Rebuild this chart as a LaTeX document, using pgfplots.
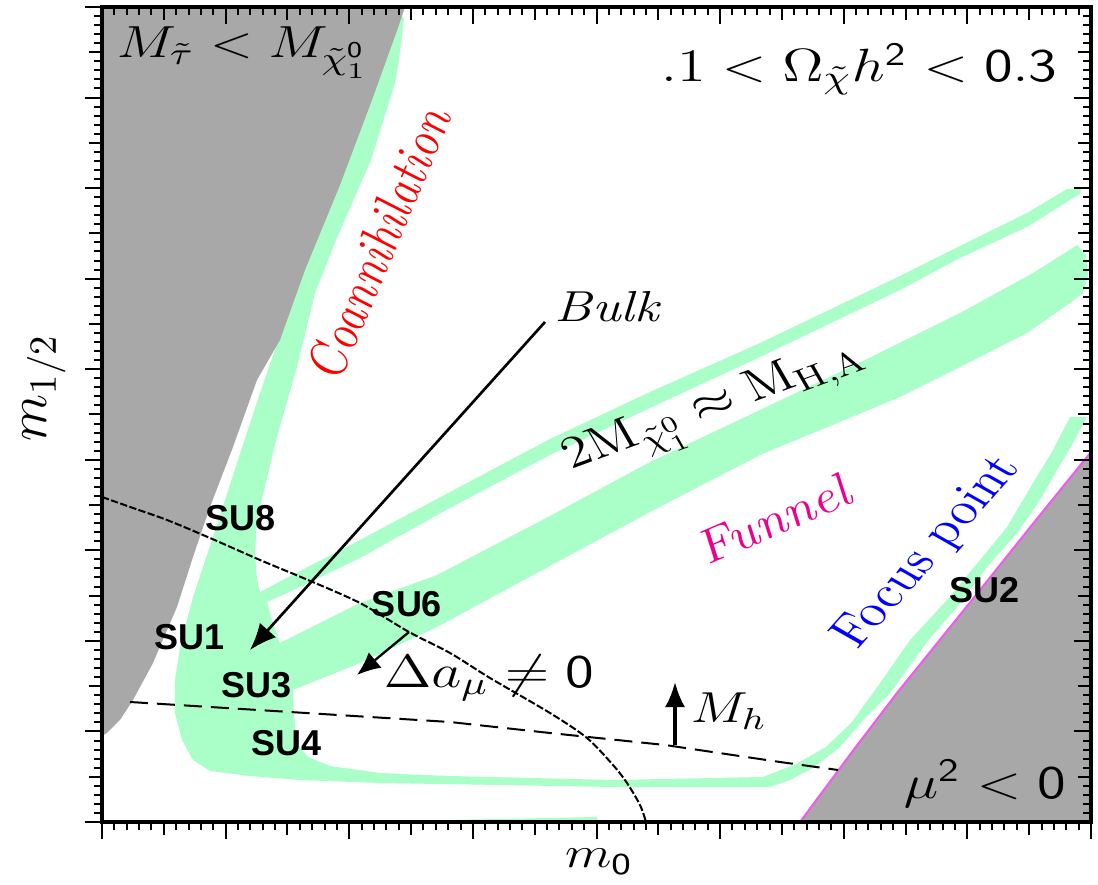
\RequirePackage{fix-cm}
\documentclass[border=0pt]{standalone}
\usepackage{fontspec}
\usepackage{pgfplots}
\pgfplotsset{compat=1.18}
\usetikzlibrary{arrows.meta}
\newfontfamily\sufont{Liberation Sans}
\definecolor{relic}{RGB}{170,255,200}
\definecolor{excluded}{RGB}{168,168,168}
\definecolor{fpmag}{RGB}{240,90,240}

\pgfplotsset{
  frame/.style={
    scale only axis, width=296.7pt, height=244.5pt,
    xmin=102, xmax=1091, ymin=62, ymax=877,
    xtick={102,225.625,349.25,472.875,596.5,720.125,843.75,967.375,1091},
    ytick={62,152.56,243.11,333.67,424.22,514.78,605.33,695.89,786.44,877},
    minor xtick={102,114.3625,...,1091},
    minor ytick={62,71.0556,...,877},
    extra x ticks={163.81,287.44,411.06,534.69,658.31,781.94,905.56,1029.19},
    extra y ticks={107.28,197.83,288.39,378.94,469.5,560.06,650.61,741.17,831.72},
    xticklabels={}, yticklabels={}, extra x tick labels={}, extra y tick labels={},
    major tick length=5.1pt, minor tick length=2.4pt,
    extra tick style={major tick length=4pt},
    axis line style={line width=1pt},
    tick style={black, line width=0.6pt},
  }
}

\begin{document}
\begin{tikzpicture}
\useasboundingbox (-30.6pt,-18.6pt) rectangle (298.8pt,246.6pt);
\begin{axis}[frame, tick align=outside, xtick pos=left, ytick pos=left, clip=false]
% relic density strips: coannihilation, bulk loop, funnel bands, focus point
\addplot[draw=none, fill=relic] coordinates {
 (398,870) (368,784) (336,699) (300,614) (280,549) (268,514) (260,491)
 (237,421) (213,347) (193,287) (180,237) (175,204) (175,171) (182,144)
 (193,124) (210,113) (250,108) (300,104) (380,101) (500,99) (613,97)
 (770,97) (790,104) (813,116) (840,137) (865,166) (890,191) (927,242)
 (957,277) (987,317) (1017,351) (1040,384) (1057,414) (1073,441)
 (1087,467) (1070,467)
 (1053,434) (1033,401) (1007,357) (980,324) (947,284) (910,244)
 (878,198) (852,162) (826,137) (796,120) (763,107) (613,104) (450,108) (380,111)
 (330,118) (308,127) (298,139) (295,159) (293,184) (293,194)
 (360,221) (437,257) (548,317) (650,372) (760,429) (900,487) (960,517)
 (1027,551) (1070,581) (1083,591) (1088,609) (1086,629) (1077,639)
 (1033,611) (960,571) (865,524) (760,474) (650,422) (548,367) (437,309)
 (360,281) (280,241) (272,264) (267,282)
 (300,297) (360,326) (450,376) (550,429) (650,476) (760,527) (900,594)
 (960,626) (1027,657) (1070,684) (1080,690) (1081,695)
 (1067,695) (1027,671) (960,638) (900,608) (760,541) (650,492) (550,445)
 (450,392) (360,344) (300,313) (260,292)
 (257,304) (255,331) (257,364) (276,444) (297,517) (315,591) (336,644)
 (371,724) (395,801) (399,824) (404,866)
} -- cycle;
\addplot[draw=none, fill=relic] coordinates {(380,63) (500,65) (597,67) (598,62) (380,62)} -- cycle;
% excluded: stau LSP and no EWSB
\addplot[draw=none, fill=excluded] coordinates {
 (102,877) (405,877) (399,859) (372,784) (340,699) (305,614) (280,544)
 (257,504) (233,437) (210,377) (193,327) (177,277) (153,221) (133,184)
 (120,164) (107,151) (102,148)
} -- cycle;
\addplot[draw=none, fill=excluded] coordinates {
 (800,62) (855,136) (897,191) (972,284) (1040,369) (1091,432) (1091,62)
} -- cycle;
\addplot[fpmag, line width=0.6pt] coordinates {
 (800,62) (855,136) (897,191) (972,284) (1040,369) (1091,432)
};
% g-2 contour
\addplot[black, line width=0.6pt, dash pattern=on 2.2pt off 0.7pt, smooth] coordinates {
 (102,387) (133,376) (167,364) (210,346) (260,324) (308,304) (360,281)
 (409,252) (450,231) (490,206) (550,171) (587,146) (613,119) (627,101)
 (640,79) (646,62)
};
% light Higgs mass bound
\addplot[black, line width=0.6pt, dash pattern=on 5.4pt off 2.7pt] coordinates {
 (130,182) (290,172) (450,162) (550,151) (665,139) (780,122) (838,114)
};
% arrows
\addplot[black, line width=0.8pt, -{Latex[length=8pt,width=6.5pt]}] coordinates {(545,562) (250,234)};
\addplot[black, line width=0.7pt, -{Latex[length=7pt,width=6pt]}] coordinates {(409,252) (357,209)};
\addplot[black, line width=1pt, -{Latex[length=7.5pt,width=6pt]}] coordinates {(675,139) (675,202)};
% region labels
\node[anchor=base west, inner sep=0pt, xscale=1.25, font=\fontsize{13.5}{15}\selectfont] at (axis cs:116,826)
  {$M_{\tilde{\tau}} < M_{\tilde{\chi}^{\mathsf{0}}_{1}}$};
\node[anchor=base east, inner sep=0pt, xscale=1.25, font=\fontsize{14}{16}\selectfont] at (axis cs:1058,802)
  {$.1 < \Omega_{\tilde{\chi}}h^{\mathsf{2}} < \mathsf{0.3}$};
\node[anchor=base west, inner sep=0pt, xscale=1.25, font=\fontsize{13}{15}\selectfont] at (axis cs:554,562) {\textit{Bulk}};
\node[anchor=base west, inner sep=0pt, xscale=1.25, font=\fontsize{14}{16}\selectfont] at (axis cs:383,196)
  {$\Delta a_{\mu} \neq \mathsf{0}$};
\node[anchor=base west, inner sep=0pt, xscale=1.25, font=\fontsize{13}{15}\selectfont] at (axis cs:690,161) {$M_h$};
\node[anchor=base west, inner sep=0pt, xscale=1.25, font=\fontsize{14}{16}\selectfont] at (axis cs:903,86)
  {$\mu^{\mathsf{2}} < \mathsf{0}$};
\node[xscale=1.25, rotate=71.4, red, font=\fontsize{13.5}{15}\selectfont\itshape] at (axis cs:378,639) {Coannihilation};
\node[xscale=1.25, rotate=54.6, blue, font=\fontsize{13.5}{16}\selectfont] at (axis cs:928,331) {Focus point};
\node[xscale=1.25, rotate=28.3, magenta, font=\fontsize{14}{16}\selectfont\itshape] at (axis cs:772,364) {Funnel};
\node[xscale=1.25, rotate=24.7, font=\fontsize{13.5}{16}\selectfont] at (axis cs:716,474)
  {$2\mathrm{M}_{\tilde{\chi}^0_1}\approx\mathrm{M}_{\mathrm{H,A}}$};
% benchmark points
\begin{scope}[every node/.style={font=\sufont\bfseries\fontsize{10.8}{12}\selectfont}]
\node at (axis cs:241,366) {SU8};
\node at (axis cs:190,247) {SU1};
\node at (axis cs:257,199) {SU3};
\node at (axis cs:287,141) {SU4};
\node at (axis cs:407,280) {SU6};
\node at (axis cs:984,294) {SU2};
\end{scope}
% axis labels
\node[xscale=1.25, inner sep=0pt, font=\fontsize{13}{15}\selectfont] at (axis cs:599,22) {$m_{\mathsf{0}}$};
\node[rotate=90, inner sep=0pt, font=\fontsize{16.5}{19}\selectfont] at (axis cs:44,496) {$m_{1/2}$};
\end{axis}
\begin{axis}[frame, tick align=inside, xtick pos=right, ytick pos=right]
\end{axis}
\end{tikzpicture}
\end{document}
